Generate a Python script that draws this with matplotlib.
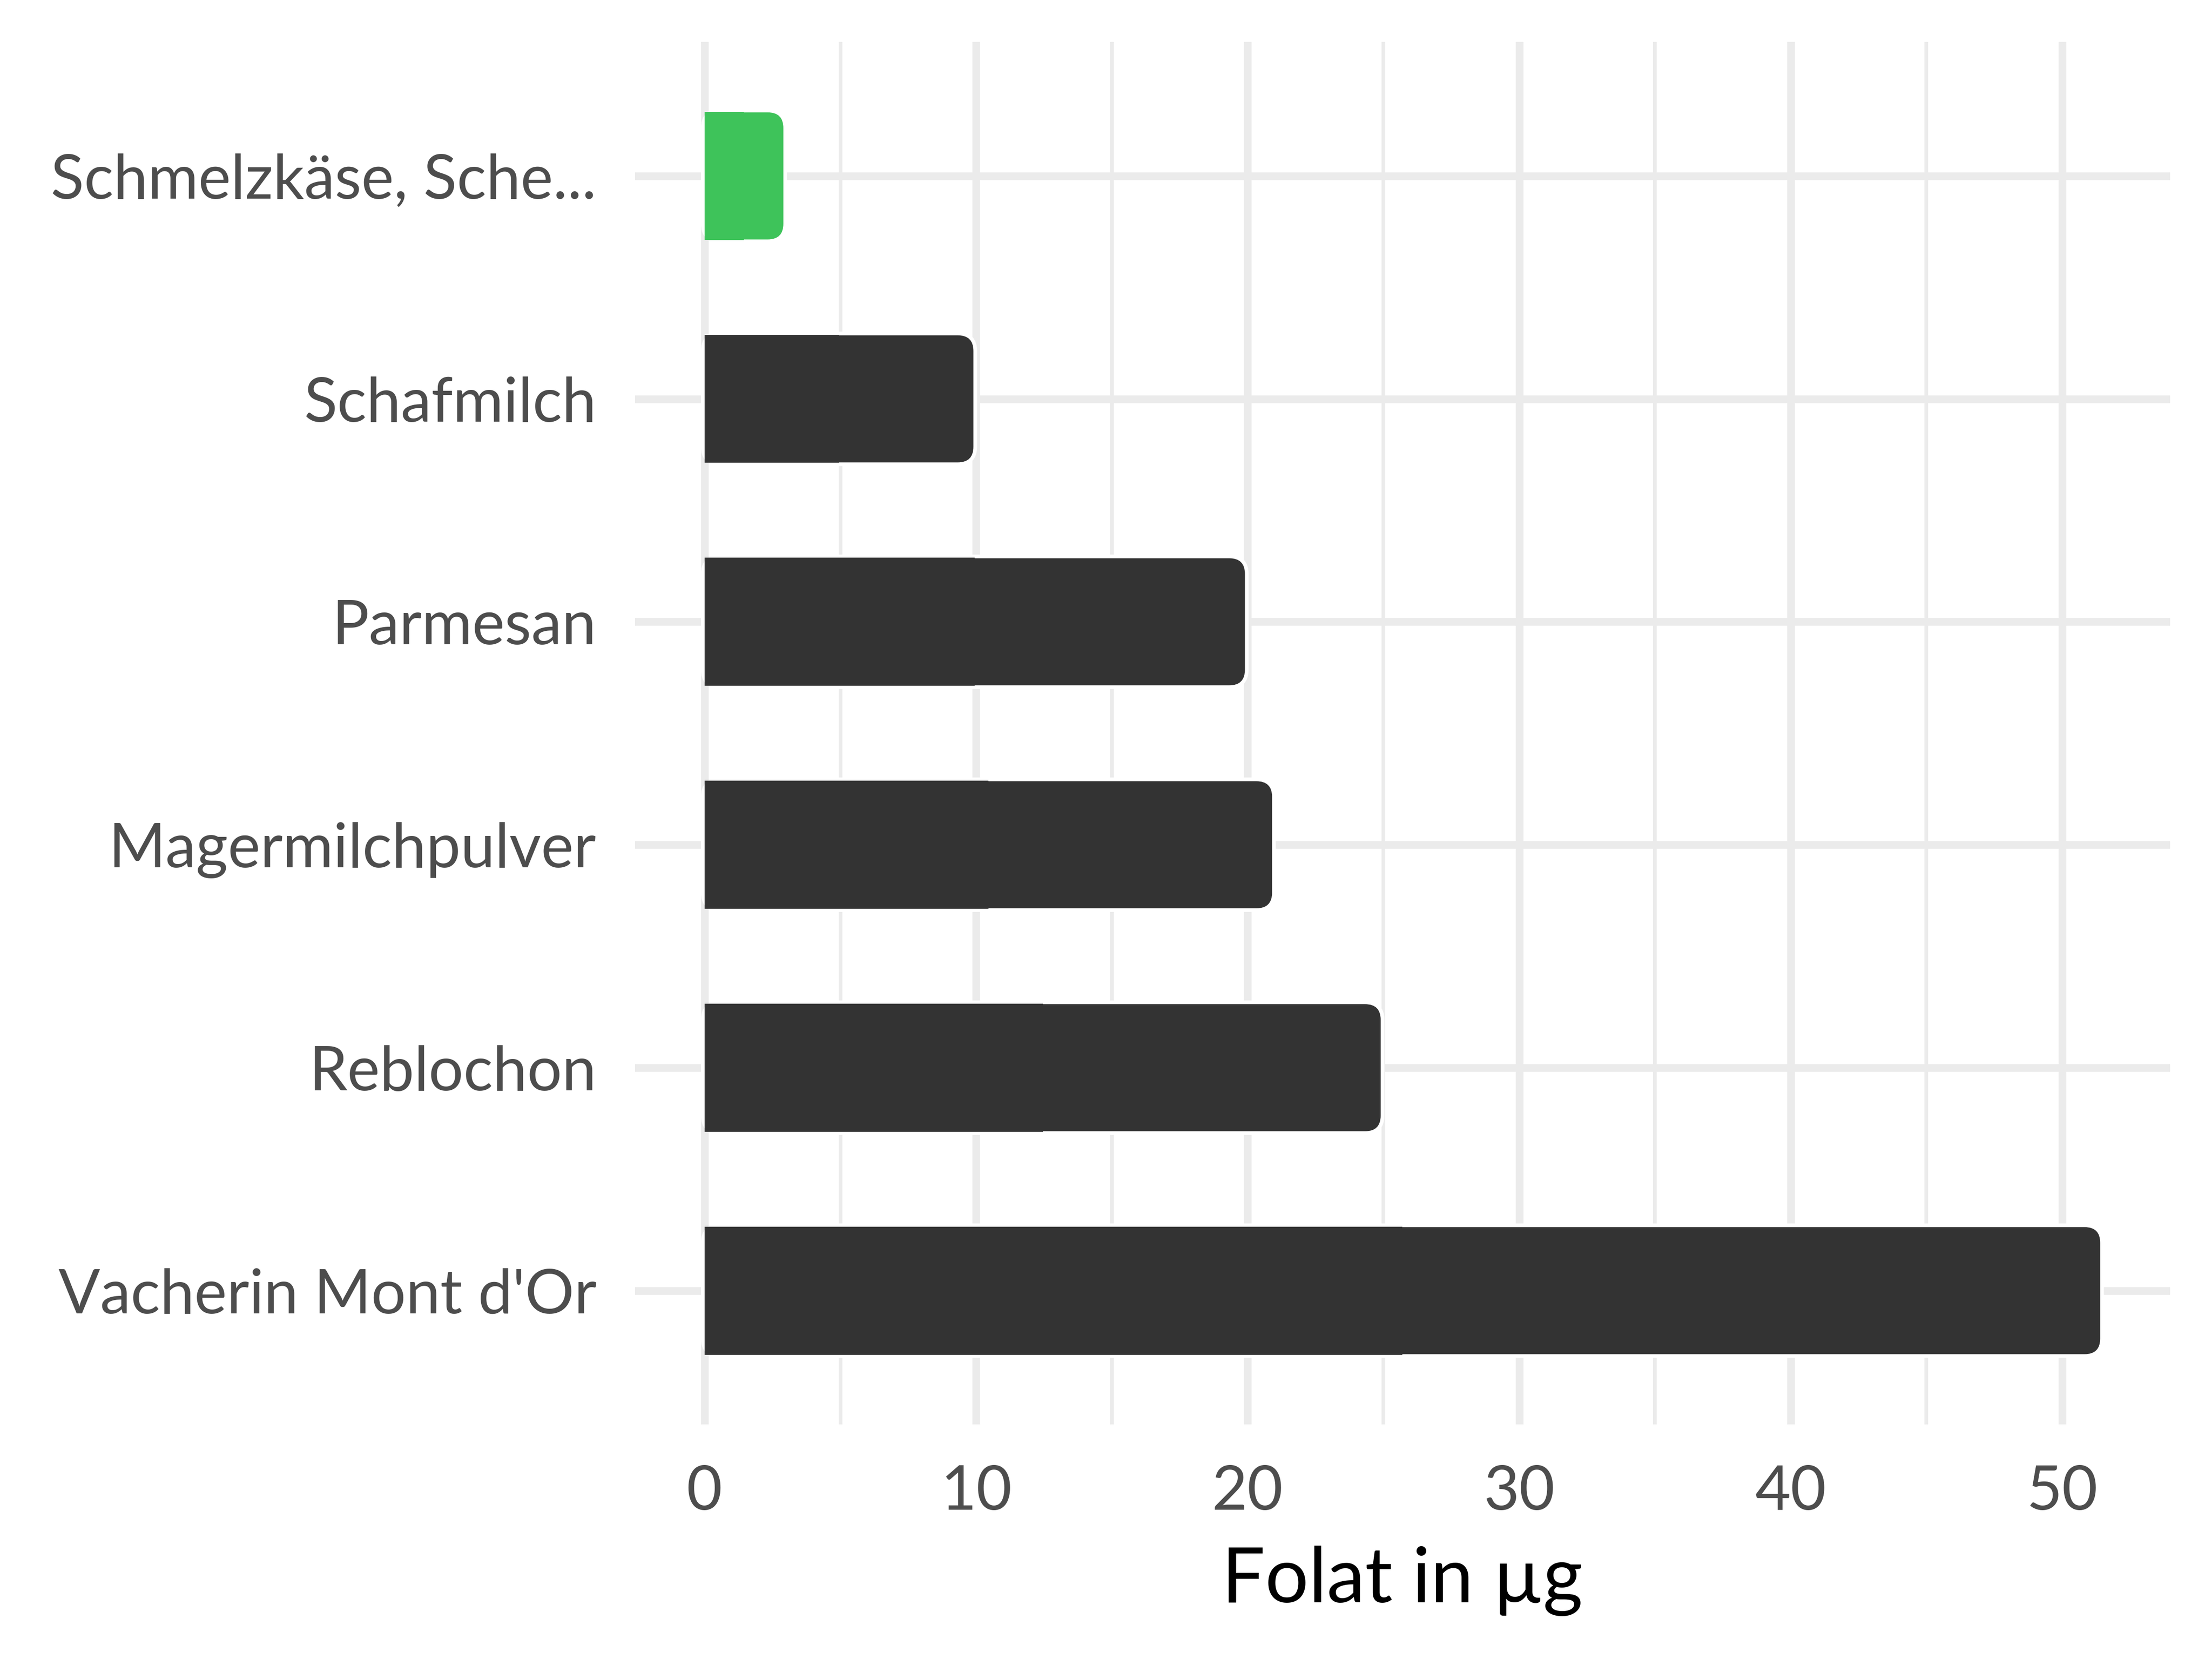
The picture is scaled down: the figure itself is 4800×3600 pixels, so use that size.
import matplotlib
matplotlib.use("Agg")
import matplotlib.pyplot as plt
from matplotlib.patches import FancyBboxPatch

categories = ["Vacherin Mont d'Or", "Reblochon", "Magermilchpulver", "Parmesan", "Schafmilch", "Schmelzkäse, Sche..."]
values = [51.4, 24.9, 20.9, 19.9, 9.9, 2.9]
bar_colors = ["#333333", "#333333", "#333333", "#333333", "#333333", "#3EC35A"]
major_ticks = [0, 10, 20, 30, 40, 50]
minor_ticks = [5, 15, 25, 35, 45]
xlabel = "Folat in µg"

plt.rcParams['font.family'] = ['Lato', 'DejaVu Sans']

W, H, DPI = 4800, 3600, 300
fig = plt.figure(figsize=(W / DPI, H / DPI), dpi=DPI)
ax = fig.add_axes([0.287, 0.1414, 0.981 - 0.287, 0.9746 - 0.1414])

vmax = max(values)
ax.set_xlim(-0.05 * vmax, vmax * 1.05)
n = len(categories)
ax.set_ylim(-0.6, n - 1 + 0.6)

grid_c = "#EBEBEB"
for t in major_ticks:
    ax.axvline(t, color=grid_c, lw=4.0, zorder=0)
for t in minor_ticks:
    ax.axvline(t, color=grid_c, lw=1.9, zorder=0)
for i in range(n):
    ax.axhline(i, color=grid_c, lw=4.0, zorder=0)

# aspect for rounded corners
x_per_px = (ax.get_xlim()[1] - ax.get_xlim()[0]) / (ax.get_position().width * W)
y_per_px = (ax.get_ylim()[1] - ax.get_ylim()[0]) / (ax.get_position().height * H)
ma = y_per_px / x_per_px
radius_x = 34 * x_per_px

bh = 0.57
for i, (v, c) in enumerate(zip(values, bar_colors)):
    style = f"round,pad=0,rounding_size={radius_x}"
    halo = FancyBboxPatch((0, i - bh / 2), v, bh, boxstyle=style,
                          mutation_aspect=ma, fc="white", ec="white", lw=3.84, zorder=2)
    ax.add_patch(halo)
    body = FancyBboxPatch((0, i - bh / 2), v, bh, boxstyle=style,
                          mutation_aspect=ma, fc=c, ec="none", zorder=2.5)
    ax.add_patch(body)
ax.barh(range(n), [v / 2 for v in values], height=bh + 0.004, left=0, color=bar_colors,
        edgecolor="none", zorder=3)

ax.set_yticks(range(n))
ax.set_yticklabels(categories)
ax.set_xticks(major_ticks)
ax.set_xticklabels([str(t) for t in major_ticks])
ax.tick_params(axis='both', length=0, labelsize=32, labelcolor="#4D4D4D")
ax.tick_params(axis='y', pad=20)
ax.tick_params(axis='x', pad=21)
for s in ax.spines.values():
    s.set_visible(False)
ax.set_xlabel(xlabel, fontsize=40, color="black", labelpad=13)

fig.savefig("out.png", dpi=DPI, facecolor="white")
